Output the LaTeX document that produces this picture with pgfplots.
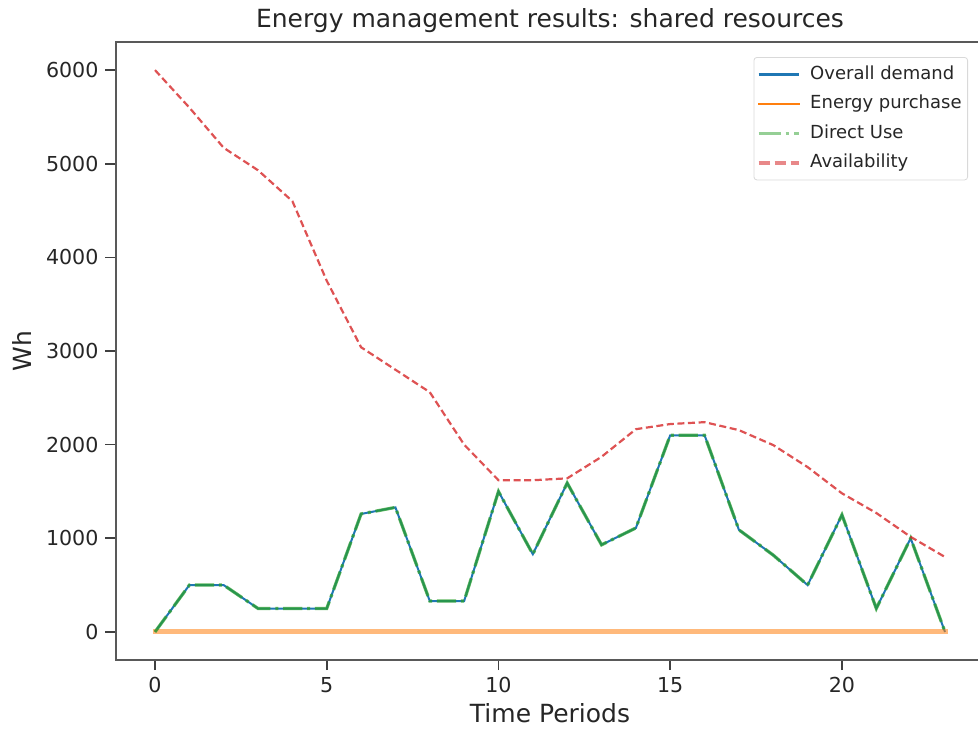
\documentclass[border=0pt]{standalone}
\usepackage{fontspec}
\setmainfont{DejaVu Sans}
\usepackage{pgfplots}
\pgfplotsset{compat=1.18}

\definecolor{mplblue}{HTML}{1F77B4}
\definecolor{mplorange}{HTML}{FF7F0E}
\definecolor{mplgreen}{HTML}{2CA02C}
\definecolor{mplred}{HTML}{D62728}

% hourly results, Wh
\pgfplotstableread{
t  demand purchase direct avail
0     0     0     0   6000
1   500     0   500   5600
2   500     0   500   5170
3   250     0   250   4930
4   250     0   250   4600
5   250     0   250   3750
6  1260     0  1260   3040
7  1330     0  1330   2800
8   330     0   330   2560
9   330     0   330   2000
10 1500     0  1500   1620
11  830     0   830   1620
12 1590     0  1590   1640
13  930     0   930   1870
14 1110     0  1110   2165
15 2100     0  2100   2220
16 2100     0  2100   2240
17 1090     0  1090   2155
18  820     0   820   1995
19  500     0   500   1760
20 1250     0  1250   1480
21  250     0   250   1270
22 1000     0  1000   1015
23    0     0     0    800
}\results

\begin{document}
\begin{tikzpicture}
\begin{axis}[
  at={(0,0)}, anchor=south west,
  scale only axis, width=434.5pt, height=309pt,
  xmin=-1.15, xmax=24.15, ymin=-300, ymax=6300,
  xtick={0,5,10,15,20}, ytick={0,1000,2000,3000,4000,5000,6000},
  tick align=outside, tick pos=left, major tick length=5pt,
  axis line style={black!65, line width=1pt},
  tick style={black!75, line width=0.8pt},
  ticklabel style={font=\fontsize{10.3}{12}\selectfont, text=black!85},
  /pgf/number format/assume math mode=true,
  scaled y ticks=false,
  yticklabel style={/pgf/number format/1000 sep={}},
  title={Energy management results: shared resources},
  every axis title/.style={at={(axis description cs:0.5,1)}, anchor=base,
    yshift=7.5pt, font=\fontsize{12.5}{14}\selectfont, text=black!85},
  xlabel={Time Periods},
  every axis x label/.style={at={(axis description cs:0.5,0)}, anchor=base,
    yshift=-31pt, font=\fontsize{12.5}{14}\selectfont, text=black!85},
  ylabel={Wh},
  every axis y label/.style={at={(axis description cs:-0.0961,0.5)},
    rotate=90, anchor=base, font=\fontsize{12.5}{14}\selectfont, text=black!85},
  legend style={at={(0.981,0.9757)}, anchor=north east,
    font=\fontsize{9}{11}\selectfont, draw=black!15, rounded corners=1.5pt,
    fill=white, fill opacity=0.8, text opacity=1, text=black!85,
    inner xsep=1.5pt, inner ysep=2.5pt, row sep=2.75pt,
    nodes={inner sep=1.5pt, text height=7pt, text depth=2pt}},
  legend cell align=left,
]
\addplot[mplblue, line width=1pt,
  legend image code/.code={\draw[mplblue, line width=1.3pt] (0pt,0pt) -- (20pt,0pt); \path (23pt,0pt);}]
  table[x=t, y=demand] {\results};
\addlegendentry{Overall demand}
\addplot[mplorange, line width=2.5pt, opacity=0.55, line cap=rect,
  legend image code/.code={\draw[mplorange, opacity=1, line width=1.2pt] (0pt,0pt) -- (20pt,0pt); \path (23pt,0pt);}]
  table[x=t, y=purchase] {\results};
\addlegendentry{Energy purchase}
\addplot[mplgreen, line width=1.6pt, opacity=0.75,
  dash pattern=on 9.6pt off 2.4pt on 1.5pt off 2.4pt,
  legend image code/.code={\draw[mplgreen, opacity=0.5, line width=1.8pt,
    dash pattern=on 11pt off 2.5pt on 1.8pt off 2.5pt] (0pt,0pt) -- (20pt,0pt); \path (23pt,0pt);}]
  table[x=t, y=direct] {\results};
\addlegendentry{Direct Use}
\addplot[mplred, line width=1.1pt, opacity=0.8,
  dash pattern=on 3.5pt off 1.8pt,
  legend image code/.code={\draw[mplred, opacity=0.55, line width=1.6pt,
    dash pattern=on 5.5pt off 2.5pt] (0pt,0pt) -- (20pt,0pt); \path (23pt,0pt);}]
  table[x=t, y=avail] {\results};
\addlegendentry{Availability}
\end{axis}
\pgfresetboundingbox
\path[use as bounding box] (-57.75pt,-34pt) rectangle (431.25pt,330pt);
\end{tikzpicture}
\end{document}
